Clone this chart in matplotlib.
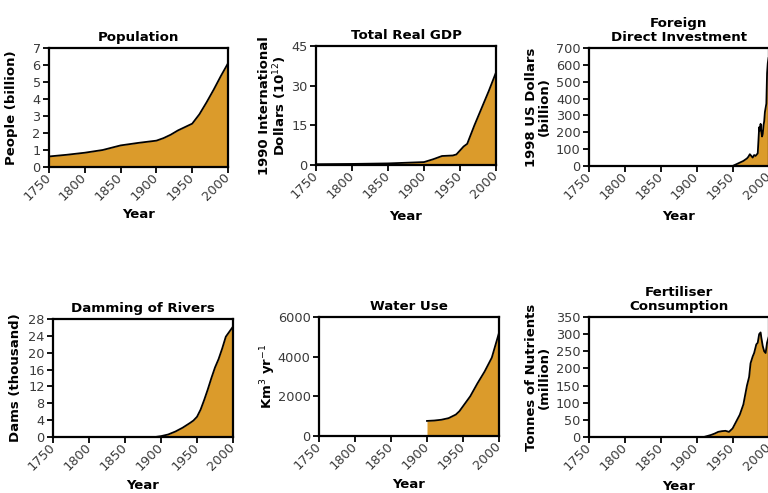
import matplotlib
matplotlib.use('Agg')
import matplotlib.pyplot as plt
from matplotlib.ticker import MultipleLocator

# population (billion)
pop_years = [1750, 1775, 1800, 1825, 1850, 1875, 1900, 1910, 1920, 1930, 1940,
             1950, 1960, 1970, 1980, 1990, 2000]
pop_vals = [0.62, 0.72, 0.84, 1.0, 1.27, 1.42, 1.55, 1.7, 1.9, 2.15, 2.35,
            2.55, 3.1, 3.8, 4.55, 5.35, 6.1]

# total real GDP (10^12 1990 intl dollars)
gdp_years = [1750, 1800, 1850, 1870, 1900, 1913, 1925, 1940, 1945, 1950, 1955,
             1960, 1970, 1980, 1990, 2000]
gdp_vals = [0.3, 0.4, 0.6, 0.8, 1.1, 2.2, 3.4, 3.6, 4.0, 5.5, 7.0,
            8.0, 15.0, 21.5, 28.0, 35.0]

# foreign direct investment (billion 1998 US$)
fdi_years = [1950, 1955, 1960, 1965, 1970, 1972, 1974, 1976, 1978, 1980, 1982,
             1984, 1985, 1986, 1987, 1988, 1989, 1990, 1991, 1992, 1993, 1994,
             1995, 1996, 1997, 1998, 1999, 2000]
fdi_vals = [0, 10, 20, 30, 45, 55, 70, 60, 50, 65, 60,
            70, 75, 150, 230, 210, 250, 205, 175, 190, 240, 265,
            320, 345, 370, 550, 610, 640]

# damming of rivers (thousand dams)
dam_years = [1892, 1900, 1910, 1920, 1930, 1940, 1945, 1950, 1955, 1960, 1965,
             1970, 1975, 1980, 1985, 1990, 1995, 2000]
dam_vals = [0, 0.2, 0.6, 1.3, 2.2, 3.3, 3.9, 4.8, 6.5, 8.8, 11.3,
            14.0, 16.5, 18.5, 21.0, 23.8, 25.0, 26.2]

# water use (km3 / yr)
water_years = [1900, 1910, 1920, 1930, 1940, 1945, 1950, 1960, 1970, 1980,
               1990, 2000]
water_vals = [760, 780, 820, 900, 1080, 1250, 1500, 2000, 2650, 3250,
              3950, 5200]

# fertiliser consumption (million tonnes of nutrients)
fert_years = [1910, 1920, 1925, 1930, 1935, 1940, 1945, 1950, 1955, 1960, 1965,
              1970, 1973, 1975, 1978, 1980, 1983, 1985, 1987, 1989, 1990, 1992,
              1994, 1996, 1998, 2000]
fert_vals = [0, 6, 10, 15, 17, 18, 15, 25, 45, 65, 95,
             150, 175, 215, 235, 245, 270, 275, 300, 305, 290, 265,
             250, 245, 275, 290]

FILL = '#DB9B2B'
W, H = 768, 493

panels = [
    # (years, vals, title, ylabel, ymax, ystep, box px (l, r, t, b), ylab_x, xlab_y)
    (pop_years, pop_vals, 'Population', 'People (billion)', 7, 1,
     (49, 228, 48, 167), -0.21, -0.40),
    (gdp_years, gdp_vals, 'Total Real GDP',
     '1990 International\nDollars (10$^{12}$)', 45, 15,
     (316, 496, 46, 165), -0.235, -0.43),
    (fdi_years, fdi_vals, 'Foreign\nDirect Investment',
     '1998 US Dollars\n(billion)', 700, 100,
     (589, 768.5, 48, 166), -0.285, -0.43),
    (dam_years, dam_vals, 'Damming of Rivers', 'Dams (thousand)', 28, 4,
     (53, 233, 319, 437), -0.21, -0.41),
    (water_years, water_vals, 'Water Use', 'Km$^3$ yr$^{-1}$', 6000, 2000,
     (319, 499, 317, 436), -0.28, -0.41),
    (fert_years, fert_vals, 'Fertiliser\nConsumption',
     'Tonnes of Nutrients\n(million)', 350, 50,
     (589, 768.5, 317, 437), -0.285, -0.41),
]

fig = plt.figure(figsize=(W / 100, H / 100), dpi=100)

for years, vals, title, ylabel, ymax, ystep, box, ylab_x, xlab_y in panels:
    l, r, t, b = box
    ax = fig.add_axes([l / W, (H - b) / H, (r - l) / W, (b - t) / H])
    ax.fill_between(years, vals, 0, color=FILL, linewidth=0)
    ax.plot(years, vals, color='black', linewidth=1.3, solid_joinstyle='round')

    ax.set_xlim(1750, 2000)
    ax.set_ylim(0, ymax)
    ax.xaxis.set_major_locator(MultipleLocator(50))
    ax.yaxis.set_major_locator(MultipleLocator(ystep))

    for sp in ax.spines.values():
        sp.set_linewidth(1.6)
    ax.tick_params(length=4, width=1.3, pad=2, labelsize=9.3, labelcolor='#3a3a3a')
    for lab in ax.get_xticklabels():
        lab.set_rotation(45)
        lab.set_ha('right')
        lab.set_va('center')
        lab.set_rotation_mode('anchor')

    ax.set_title(title, fontsize=9.6, fontweight='bold', pad=5, linespacing=1.1)
    ax.set_ylabel(ylabel, fontsize=9.5, fontweight='bold', linespacing=1.05)
    ax.yaxis.label.set_va('center')
    ax.yaxis.set_label_coords(ylab_x, 0.5)
    ax.set_xlabel('Year', fontsize=9.5, fontweight='bold')
    ax.xaxis.label.set_va('center')
    ax.xaxis.set_label_coords(0.5, xlab_y)

fig.savefig('out.png', dpi=100)
